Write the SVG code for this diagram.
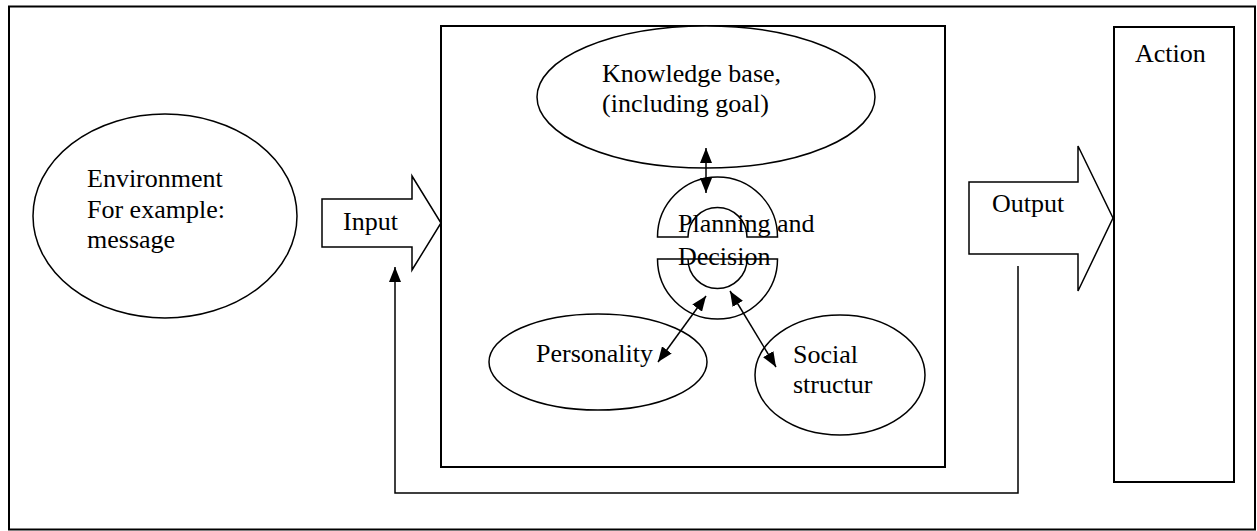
<svg xmlns="http://www.w3.org/2000/svg" width="1257" height="531" viewBox="0 0 1257 531">
<style>
.s{fill:none;stroke:#000;stroke-width:1.5}
.w{fill:#fff;stroke:#000;stroke-width:1.5}
.b{fill:#fff;stroke:#000;stroke-width:2}
.c{fill:none;stroke:#000;stroke-width:1.5}
text{font-family:"Liberation Serif","Times New Roman",serif;font-size:26px;fill:#000}
</style>
<defs>
<marker id="ah" viewBox="0 0 15 12" refX="15" refY="6" markerWidth="15" markerHeight="12" markerUnits="userSpaceOnUse" orient="auto-start-reverse">
<path d="M0,0 L15,6 L0,12 Z" fill="#000"/>
</marker>
</defs>
<rect x="0" y="0" width="1257" height="531" fill="#fff"/>
<g id="frame"><rect class="b" x="9" y="6.5" width="1246" height="523" fill="none"/></g>
<g id="environment">
<ellipse class="w" cx="165" cy="216" rx="132" ry="102"/>
<text x="87" y="187">Environment</text>
<text x="87" y="218">For example:</text>
<text x="87" y="248">message</text>
</g>
<g id="input">
<path class="w" d="M322,199 H412 V176 L441,223 L412,270 V247 H322 Z"/>
<text x="343" y="230">Input</text>
</g>
<g id="agent">
<rect class="b" x="441" y="26" width="504" height="441"/>
</g>
<g id="knowledge">
<ellipse class="w" cx="706" cy="97" rx="169" ry="71"/>
<text x="602" y="82">Knowledge base,</text>
<text x="602" y="112">(including goal)</text>
</g>
<g id="planning">
<path class="w" d="M657.5,237 A60,60 0 0 1 777.5,237 L747,237 A29.5,29.5 0 0 0 688,237 Z"/>
<path class="w" d="M657.5,259 L777.5,259 A60,60 0 0 1 657.5,259 Z"/>
<path class="s" d="M688,259 A29.5,29.5 0 0 0 747,259"/>
<text x="678" y="232">Planning and</text>
<text x="678" y="265">Decision</text>
</g>
<g id="personality">
<ellipse class="w" cx="598" cy="362" rx="109" ry="48"/>
<text x="536" y="362">Personality</text>
</g>
<g id="social">
<ellipse class="w" cx="840" cy="375" rx="85" ry="60"/>
<text x="793" y="363">Social</text>
<text x="793" y="393">structur</text>
</g>
<g id="output">
<path class="w" d="M969,182 H1078 V146 L1113,218 L1078,291 V254 H969 Z"/>
<text x="992" y="212">Output</text>
</g>
<g id="action">
<rect class="b" x="1114" y="27" width="120" height="455"/>
<text x="1135" y="62">Action</text>
</g>
<g id="connectors">
<line class="c" x1="706" y1="148" x2="706" y2="193" marker-start="url(#ah)" marker-end="url(#ah)"/>
<line class="c" x1="706" y1="296" x2="658" y2="362" marker-start="url(#ah)" marker-end="url(#ah)"/>
<line class="c" x1="730" y1="291" x2="776" y2="367" marker-start="url(#ah)" marker-end="url(#ah)"/>
<path class="c" d="M1018,266 V493 H395 V267" marker-end="url(#ah)"/>
</g>
</svg>
